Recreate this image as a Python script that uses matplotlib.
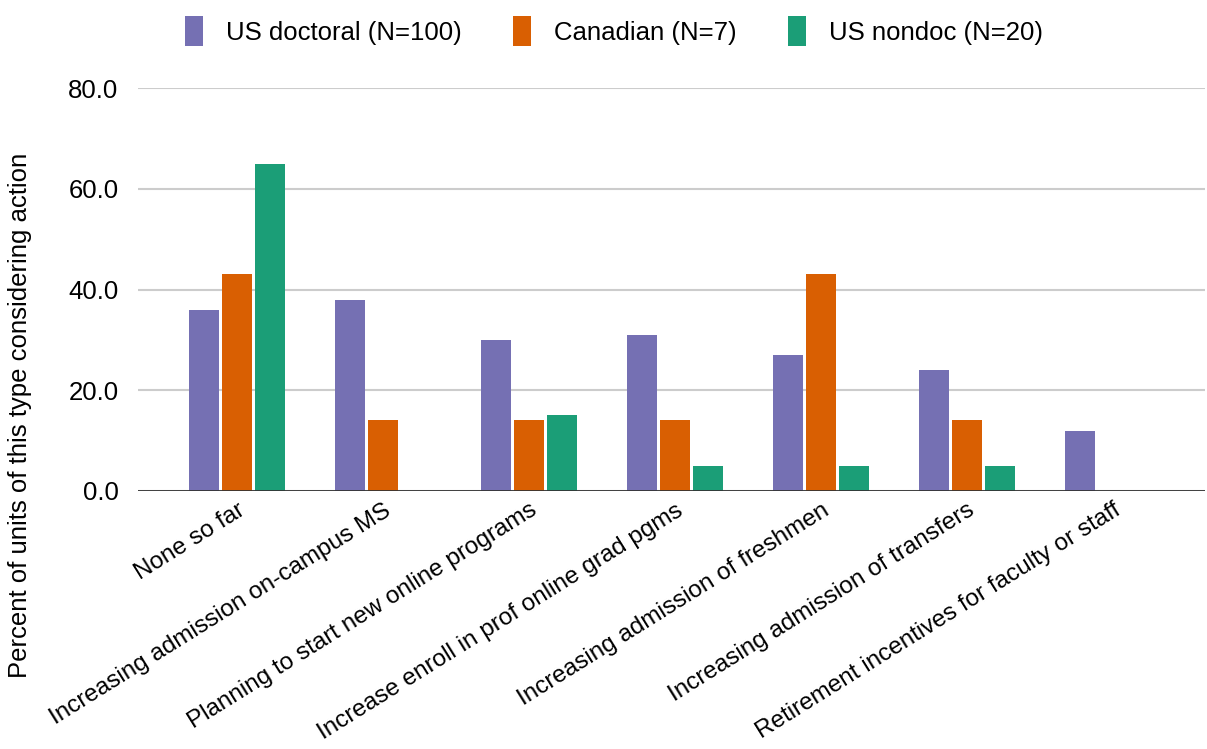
import numpy as np
import matplotlib.pyplot as plt

# Data
categories = ["None so far", "Increasing admission on-campus MS",
              "Planning to start new online programs",
              "Increase enroll in prof online grad pgms",
              "Increasing admission of freshmen",
              "Increasing admission of transfers",
              "Retirement incentives for faculty or staff"]
us_doctoral = [36, 38, 30, 31, 27, 24, 12]
canadian = [43, 14, 14, 14, 43, 14, 0]
us_nondoc = [65, 0, 15, 5, 5, 5, 0]
series_names = ["US doctoral (N=100)", "Canadian (N=7)", "US nondoc (N=20)"]
yticks = [0, 20, 40, 60, 80]

colors = ["#7570b3", "#d95f02", "#1b9e77"]

plt.rcParams['font.family'] = ['Liberation Sans', 'DejaVu Sans']

W, H = 1207, 749
fig = plt.figure(figsize=(W / 100, H / 100), dpi=100)
ax = fig.add_axes([138 / W, (H - 491) / H, (1205 - 138) / W, (491 - 88) / H])

x = np.arange(len(categories))
bw = 0.205
off = 0.226
for i, (vals, name) in enumerate(zip([us_doctoral, canadian, us_nondoc], series_names)):
    ax.bar(x + (i - 1) * off, vals, bw, color=colors[i], label=name, zorder=3)

ax.set_xlim(-0.68, 6.63)
ax.set_ylim(0, 80)
ax.set_yticks(yticks)
ax.set_yticklabels([f"{v:.1f}" for v in yticks], fontsize=18.5)
ax.yaxis.grid(True, color="#cccccc", linewidth=1.5, zorder=0)
ax.axhline(0, color="#333333", linewidth=2, zorder=4)
ax.tick_params(axis='y', length=0, pad=14)
ax.tick_params(axis='x', length=0, pad=6)
for s in ax.spines.values():
    s.set_visible(False)

ax.set_xticks(x)
ax.set_xticklabels(categories, rotation=32, ha='right', rotation_mode='anchor', fontsize=17.5)

fig.text(20 / W, (H - 415) / H, "Percent of units of this type considering action",
         rotation=90, ha='center', va='center', fontsize=18.5)

fig.legend(loc='center', bbox_to_anchor=(614 / W, (H - 31) / H), ncol=3, frameon=False,
           fontsize=18.5, handlelength=0.7, handleheight=1.4, handletextpad=0.9,
           columnspacing=2.0)

fig.savefig("out.png", dpi=100)
